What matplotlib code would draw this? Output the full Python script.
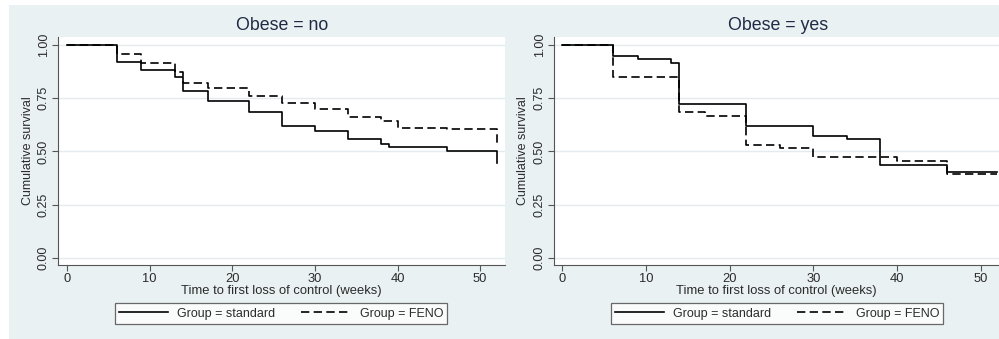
import matplotlib
matplotlib.use("Agg")
import matplotlib.pyplot as plt
from matplotlib.patches import Rectangle

plt.rcParams['font.family'] = ['Liberation Sans', 'DejaVu Sans']

# Kaplan-Meier estimates (weeks, cumulative survival)
no_std_t = [0, 6, 9, 13, 14, 17, 22, 26, 30, 34, 38, 39, 40, 46, 52]
no_std_s = [1.0, 0.919, 0.883, 0.848, 0.784, 0.737, 0.685, 0.618, 0.596, 0.559, 0.537, 0.523, 0.52, 0.504, 0.446]
no_feno_t = [0, 6, 9, 13, 14, 17, 22, 26, 30, 34, 38, 40, 46, 52]
no_feno_s = [1.0, 0.956, 0.914, 0.875, 0.823, 0.798, 0.761, 0.729, 0.70, 0.663, 0.643, 0.61, 0.606, 0.53]

yes_std_t = [0, 6, 9, 13, 14, 22, 30, 34, 38, 46, 52]
yes_std_s = [1.0, 0.95, 0.934, 0.915, 0.722, 0.621, 0.573, 0.557, 0.438, 0.402, 0.402]
yes_feno_t = [0, 6, 14, 17, 22, 26, 30, 40, 46, 52]
yes_feno_s = [1.0, 0.85, 0.685, 0.667, 0.532, 0.515, 0.473, 0.457, 0.396, 0.396]

titles = ["Obese = no", "Obese = yes"]
labels = ["Group = standard", "Group = FENO"]
xticks = [0, 10, 20, 30, 40, 50]
yticks = [0.0, 0.25, 0.5, 0.75, 1.0]

bg = '#eaf1f3'
grid_c = '#e3ebee'
txt = '#2b2b2b'

fig = plt.figure(figsize=(9.99, 3.39), dpi=100)
fig.patch.set_facecolor('white')
fig.patches.append(Rectangle((9/999, 0), 1 - 9/999, 1 - 5/339, transform=fig.transFigure,
                             facecolor=bg, edgecolor='none', zorder=-10))

panels = [
    (titles[0], no_std_t, no_std_s, no_feno_t, no_feno_s, [58/999, 0.2183, 447/999, 0.6726], (-1.1, 53.0), 282/999, 281/999),
    (titles[1], yes_std_t, yes_std_s, yes_feno_t, yes_feno_s, [554/999, 0.2183, 445/999, 0.6726], (-1.0, 52.2), 778/999, 777/999),
]

for title, t1, s1, t2, s2, pos, xl, tx, lx in panels:
    ax = fig.add_axes(pos)
    ax.set_facecolor('white')
    for y in yticks:
        ax.axhline(y, color=grid_c, lw=1.0, zorder=0)
    ax.step(t1, s1, where='post', color='black', lw=1.2, label=labels[0])
    ax.step(t2, s2, where='post', color='black', lw=1.2, linestyle=(0, (5, 2.6)), label=labels[1])
    ax.set_xlim(*xl)
    ax.set_ylim(-0.033, 1.0376)
    ax.set_xticks(xticks)
    ax.set_yticks(yticks)
    ax.set_yticklabels(['0.00', '0.25', '0.50', '0.75', '1.00'], rotation=90, va='center')
    ax.tick_params(axis='both', colors='#555555', labelcolor=txt, length=4, width=0.8)
    ax.tick_params(axis='x', pad=1.5, labelsize=9.3)
    ax.tick_params(axis='y', pad=2, labelsize=9)
    for side in ['top', 'right']:
        ax.spines[side].set_visible(False)
    for side in ['left', 'bottom']:
        ax.spines[side].set_color('#555555')
        ax.spines[side].set_linewidth(0.8)
    ax.set_xlabel("Time to first loss of control (weeks)", fontsize=9.4, color=txt, labelpad=0)
    ax.set_ylabel("Cumulative survival", fontsize=9, color=txt, labelpad=3)
    fig.text(tx, 1 - 26/339, title, ha='center', va='center', fontsize=12.8, color='#1f2a44')
    leg = ax.legend(loc='center', bbox_to_anchor=(lx, 1 - 313.5/339), bbox_transform=fig.transFigure,
                    ncol=2, fontsize=9, frameon=True, fancybox=False, handlelength=3.95,
                    columnspacing=2.1, handletextpad=0.7, borderpad=0.35, borderaxespad=0)
    leg.get_frame().set_edgecolor('#444444')
    leg.get_frame().set_linewidth(0.9)
    for text in leg.get_texts():
        text.set_color(txt)

fig.savefig('out.png', dpi=100, facecolor=fig.get_facecolor())
